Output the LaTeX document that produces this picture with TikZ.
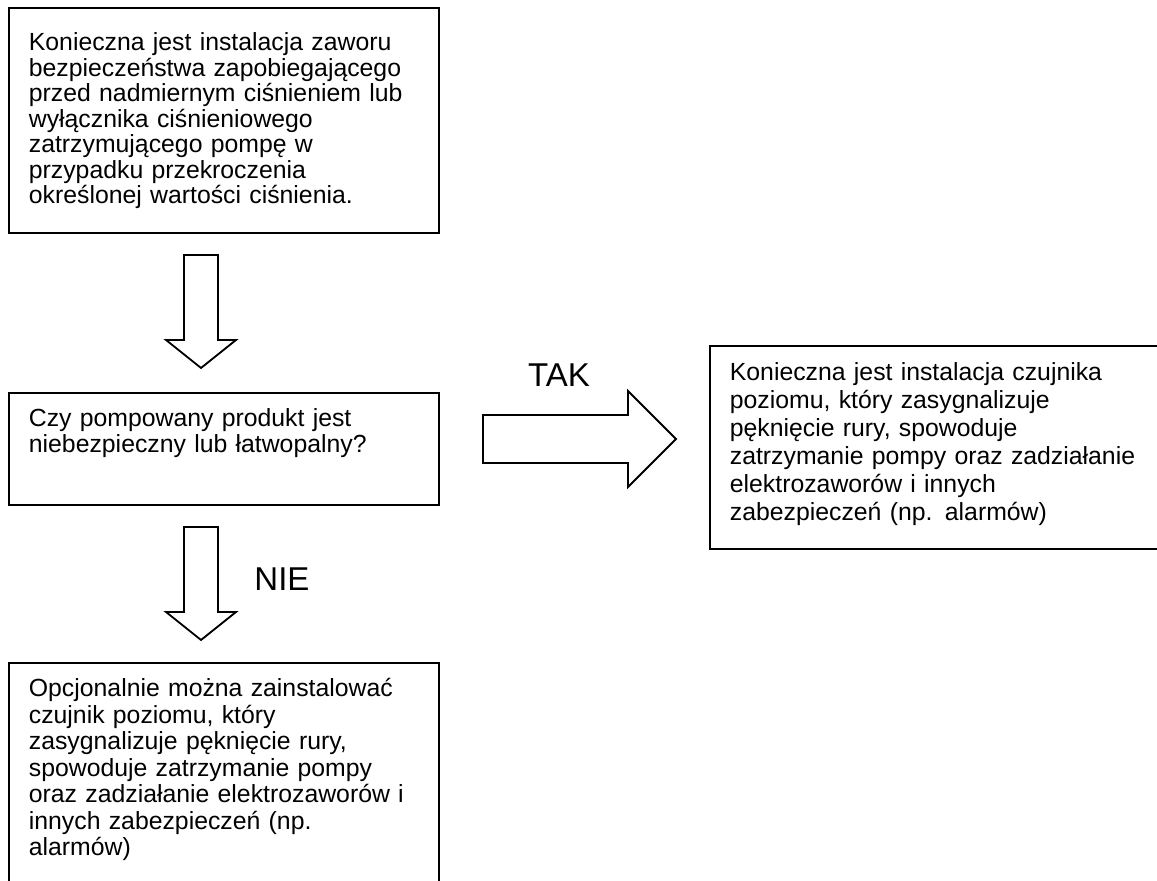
\documentclass[tikz,border=0pt]{standalone}
\usepackage{fontspec}
\setmainfont{Liberation Sans}

\begin{document}
\begin{tikzpicture}[
        x=0.5pt, y=-0.5pt,
        every node/.style={font=\fontsize{12.4pt}{12.75pt}\selectfont},
        box/.style={
            draw,
            line width=0.9pt,
            anchor=north west,
            align=left,
            text width=195pt,
            inner xsep=10pt,
            text height=9pt
        },
        fat/.style={draw, line width=0.9pt, fill=white},
        answer/.style={anchor=base, font=\fontsize{16.5pt}{18pt}\selectfont}
    ]

    \clip (0,0) rectangle (1157,881);

    % Boxes
    \node[box, inner ysep=12.5pt, text depth=78.5pt] (valve) at (8,7)
    {Konieczna jest instalacja zaworu\\
     bezpieczeństwa zapobiegającego\\
     przed nadmiernym ciśnieniem lub\\
     wyłącznika ciśnieniowego\\
     zatrzymującego pompę w\\
     przypadku przekroczenia\\
     określonej wartości ciśnienia.};

    \node[box, inner ysep=8pt, text depth=31pt,
          font=\fontsize{12.4pt}{13pt}\selectfont] (question) at (8,392)
    {Czy pompowany produkt jest\\
     niebezpieczny lub łatwopalny?};

    \node[box, inner ysep=8.5pt, text depth=75.5pt, text width=240pt,
          font=\fontsize{12.4pt}{14pt}\selectfont] (sensor) at (709,345)
    {Konieczna jest instalacja czujnika\\
     poziomu, który zasygnalizuje\\
     pęknięcie rury, spowoduje\\
     zatrzymanie pompy oraz zadziałanie\\
     elektrozaworów i innych\\
     zabezpieczeń (np. alarmów)};

    \node[box, inner ysep=8pt, text depth=110pt,
          font=\fontsize{12.4pt}{13.25pt}\selectfont] (optional) at (8,662)
    {Opcjonalnie można zainstalować\\
     czujnik poziomu, który\\
     zasygnalizuje pęknięcie rury,\\
     spowoduje zatrzymanie pompy\\
     oraz zadziałanie elektrozaworów i\\
     innych zabezpieczeń (np.\\
     alarmów)};

    % Block arrows
    \coordinate (down1) at (201,255);
    \coordinate (down2) at (201,527);
    \coordinate (right1) at (483,439);

    \draw[fat] (down1) ++(-17,0) -- ++(0,85) -- ++(-18,0) -- ++(35,28)
        -- ++(35,-28) -- ++(-18,0) -- ++(0,-85) -- cycle;
    \draw[fat] (down2) ++(-17,0) -- ++(0,85) -- ++(-18,0) -- ++(35,28)
        -- ++(35,-28) -- ++(-18,0) -- ++(0,-85) -- cycle;
    \draw[fat] (right1) ++(0,-24) -- ++(145,0) -- ++(0,-24) -- ++(48,48)
        -- ++(-48,48) -- ++(0,-24) -- ++(-145,0) -- cycle;

    % Answers
    \node[answer] (yes) at (559,387) {TAK};
    \node[answer] (no) at (282,591) {NIE};

\end{tikzpicture}
\end{document}
